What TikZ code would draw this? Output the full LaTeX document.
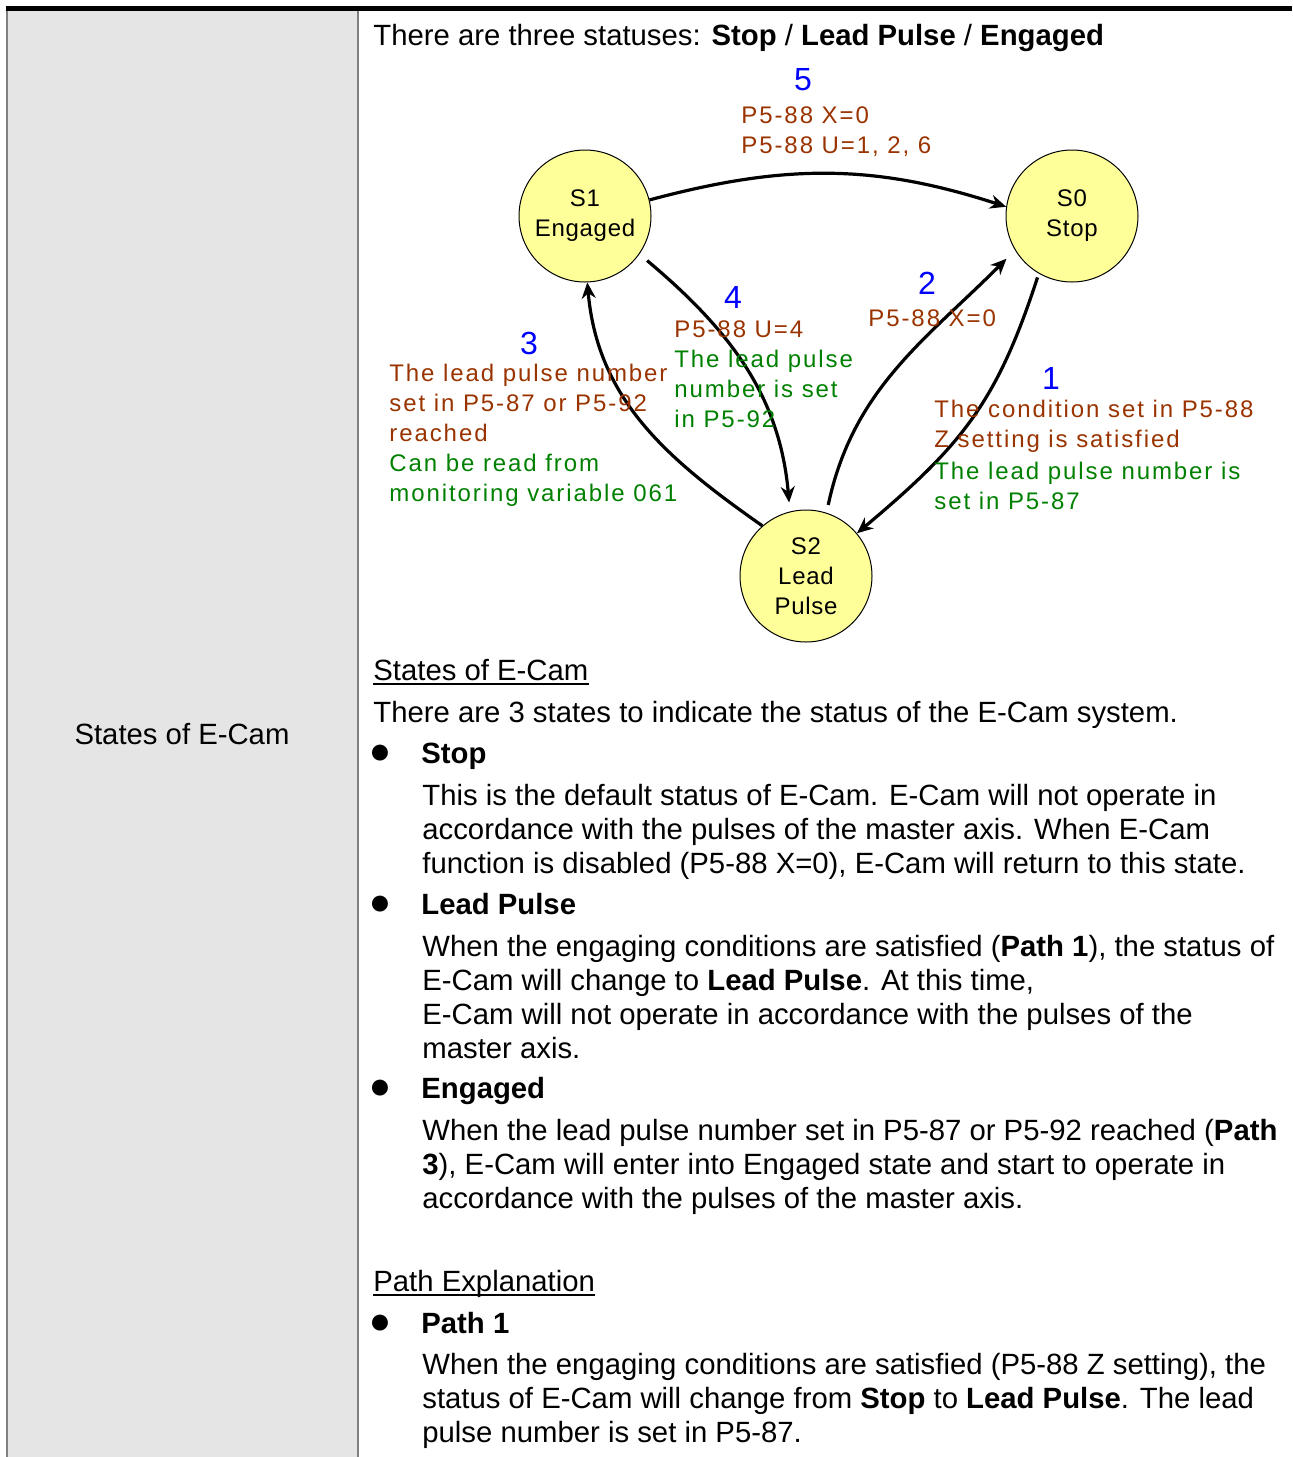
\documentclass[tikz,border=0pt]{standalone}
\usepackage{fontspec}
\setmainfont{Liberation Sans}
\newfontfamily\diagfont[LetterSpace=8]{Liberation Sans}
\newfontfamily\statefont[LetterSpace=3]{Liberation Sans}
\usetikzlibrary{arrows.meta}
\definecolor{brn}{RGB}{153,51,0}
\definecolor{grn}{RGB}{0,128,0}
\definecolor{numblue}{RGB}{0,0,255}
\definecolor{yel}{RGB}{255,255,153}
\definecolor{cellgray}{RGB}{229,229,229}
\definecolor{bordergray}{RGB}{128,128,128}
\begin{document}
\begin{tikzpicture}[x=0.5pt,y=-0.5pt,
  body/.style={anchor=base west,inner sep=0pt,font=\fontsize{14.65}{17}\selectfont},
  blt/.style={anchor=center,inner sep=0pt,font=\fontsize{18.5}{18.5}\selectfont},
  state/.style={circle,draw=black,line width=0.5pt,fill=yel,minimum size=66pt,inner sep=0pt,align=center,font=\statefont\fontsize{12}{15}\selectfont},
  num/.style={anchor=center,text=numblue,inner sep=0pt,font=\fontsize{16}{16}\selectfont},
  lbl/.style={anchor=base west,inner sep=0pt,font=\diagfont\fontsize{12}{15}\selectfont},
  cond/.style={lbl,text=brn},
  info/.style={lbl,text=grn},
  flow/.style={line width=1.6pt,-{Stealth[length=8pt,width=7pt]}},
  uline/.style={line width=1pt}
]
\useasboundingbox (0,0) rectangle (1292,1457);
% table frame
\fill[cellgray] (7,11) rectangle (358,1457);
\draw[bordergray,line width=1pt] (7,11) -- (7,1457);
\draw[bordergray,line width=1pt] (358,11) -- (358,1457);
\fill[black] (6,6) rectangle (1292,11);
\node[anchor=base,inner sep=0pt,font=\fontsize{14.65}{17}\selectfont] (lefttitle) at (182,744) {States of E-Cam};

% top line
\node[body] (t0) at (373,45) {There are three statuses: \textbf{Stop} / \textbf{Lead Pulse} / \textbf{Engaged}};

% states
\node[state] (s1) at (585,216) {S1\\Engaged};
\node[state] (s0) at (1072,216) {S0\\Stop};
\node[state] (s2) at (806,576) {S2\\Lead\\Pulse};

% transitions
\draw[flow] (s1.14) to[out=15,in=162] (s0.172);
\draw[flow,shorten <=5pt,shorten >=4.5pt] (s1.-35) to[out=-40,in=95] (s2.104);
\draw[flow] (s2.131) to[out=145,in=-85] (s1.-88);
\draw[flow,shorten <=4pt,shorten >=6pt] (s2.72) to[out=78,in=225] (s0.211);
\draw[flow,shorten <=2pt] (s0.240) to[out=252,in=40,looseness=1.1] (s2.40);

% path 5
\node[num] (n5) at (803,80) {5};
\node[cond] (c5a) at (741,123) {P5-88 X=0};
\node[cond] (c5b) at (741,153) {P5-88 U=1, 2, 6};
% path 4
\node[num] (n4) at (733,297) {4};
\node[cond] (c4a) at (674,337) {P5-88 U=4};
\node[info] (i4a) at (674,367) {The lead pulse};
\node[info] (i4b) at (674,397) {number is set};
\node[info] (i4c) at (674,427) {in P5-92};
% path 2
\node[num] (n2) at (927,283) {2};
\node[cond] (c2a) at (868,326) {P5-88 X=0};
% path 3
\node[num] (n3) at (529,343) {3};
\node[cond] (c3a) at (389,381) {The lead pulse number};
\node[cond] (c3b) at (389,411) {set in P5-87 or P5-92};
\node[cond] (c3c) at (389,441) {reached};
\node[info] (i3a) at (389,471) {Can be read from};
\node[info] (i3b) at (389,501) {monitoring variable 061};
% path 1
\node[num] (n1) at (1051,378) {1};
\node[cond] (c1a) at (934,417) {The condition set in P5-88};
\node[cond] (c1b) at (934,447) {Z setting is satisfied};
\node[info] (i1a) at (934,479) {The lead pulse number is};
\node[info] (i1b) at (934,509) {set in P5-87};

% body text
\node[body] (h1) at (373,680) {States of E-Cam};
\draw[uline] ([yshift=-2pt]h1.base west) -- ([yshift=-2pt]h1.base east);
\node[body] (p0) at (373,722) {There are 3 states to indicate the status of the E-Cam system.};

\node[blt] (b1) at (380,754) {●};
\node[body] (k1) at (421,763) {\textbf{Stop}};
\node[body] (p1a) at (422,805) {This is the default status of E-Cam. E-Cam will not operate in};
\node[body] (p1b) at (422,839) {accordance with the pulses of the master axis. When E-Cam};
\node[body] (p1c) at (422,873) {function is disabled (P5-88 X=0), E-Cam will return to this state.};

\node[blt] (b2) at (380,905) {●};
\node[body] (k2) at (421,914) {\textbf{Lead Pulse}};
\node[body] (p2a) at (422,956) {When the engaging conditions are satisfied (\textbf{Path 1}), the status of};
\node[body] (p2b) at (422,990) {E-Cam will change to \textbf{Lead Pulse}. At this time,};
\node[body] (p2c) at (422,1024) {E-Cam will not operate in accordance with the pulses of the};
\node[body] (p2d) at (422,1058) {master axis.};

\node[blt] (b3) at (380,1089) {●};
\node[body] (k3) at (421,1098) {\textbf{Engaged}};
\node[body] (p3a) at (422,1140) {When the lead pulse number set in P5-87 or P5-92 reached (\textbf{Path}};
\node[body] (p3b) at (422,1174) {\textbf{3}), E-Cam will enter into Engaged state and start to operate in};
\node[body] (p3c) at (422,1208) {accordance with the pulses of the master axis.};

\node[body] (h2) at (373,1291) {Path Explanation};
\draw[uline] ([yshift=-2pt]h2.base west) -- ([yshift=-2pt]h2.base east);

\node[blt] (b4) at (380,1324) {●};
\node[body] (k4) at (421,1333) {\textbf{Path 1}};
\node[body] (p4a) at (422,1374) {When the engaging conditions are satisfied (P5-88 Z setting), the};
\node[body] (p4b) at (422,1408) {status of E-Cam will change from \textbf{Stop} to \textbf{Lead Pulse}. The lead};
\node[body] (p4c) at (422,1442) {pulse number is set in P5-87.};
\end{tikzpicture}
\end{document}
